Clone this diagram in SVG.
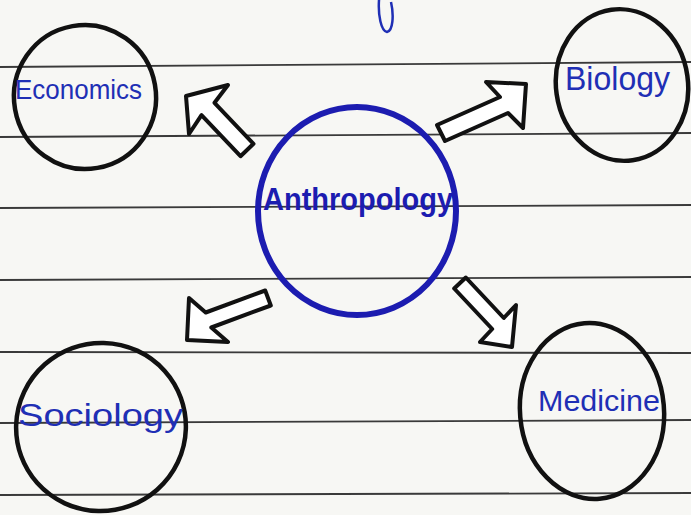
<svg xmlns="http://www.w3.org/2000/svg" width="691" height="515" viewBox="0 0 691 515">
<style>
.rule{fill:none;stroke:#3a3a3a;stroke-width:1.8}
.node{fill:none;stroke:#111;stroke-width:4.5}
.center{fill:none;stroke:#1c1cb0;stroke-width:6}
.arrow{fill:#fff;stroke:#111;stroke-width:4;stroke-linejoin:round}
.lbl{font-family:"Liberation Sans","DejaVu Sans",sans-serif;fill:#1f2fb5}
.main{font-family:"Liberation Sans","DejaVu Sans",sans-serif;fill:#1c1cb0;font-weight:bold}
</style>
<rect width="691" height="515" fill="#f7f7f4"/>
<g id="paper">
<path class="rule" d="M0,67 L691,62"/>
<path class="rule" d="M0,137 L691,133"/>
<path class="rule" d="M0,208 L691,205"/>
<path class="rule" d="M0,280 L691,277"/>
<path class="rule" d="M0,352 L691,353"/>
<path class="rule" d="M0,423 L691,420"/>
<path class="rule" d="M0,495 L691,493"/>
<path d="M379,0 C378,15 381,31 387,32 C393,31 394,15 391,2" fill="none" stroke="#1f2fb5" stroke-width="2.5"/>
</g>
<g id="connectors">
<polygon class="arrow" points="186,96 228,85 214.5,102.8 253.5,143.8 240.5,156.2 201.5,115.2 189,134"/>
<polygon class="arrow" points="526,84 486,82 500,97 437,125 445,141 508,113 523,128"/>
<polygon class="arrow" points="187,340 189,298 205.7,312.5 265.2,290.5 270.8,305.5 211.3,327.5 228,342"/>
<polygon class="arrow" points="512,347 480,342 492.2,329 454.2,288.5 465.8,277.5 503.8,318 516,305"/>
</g>
<g id="anthropology">
<ellipse class="center" cx="357" cy="211" rx="99" ry="104"/>
<text class="main" x="263" y="210" font-size="32" textLength="190" lengthAdjust="spacingAndGlyphs">Anthropology</text>
</g>
<g id="economics">
<ellipse class="node" cx="85" cy="97" rx="71" ry="72" transform="rotate(-10 85 97)"/>
<text class="lbl" x="15" y="99" font-size="28" textLength="127" lengthAdjust="spacingAndGlyphs">Economics</text>
</g>
<g id="biology">
<ellipse class="node" cx="622" cy="85" rx="66" ry="76" transform="rotate(-8 622 85)"/>
<text class="lbl" x="565" y="90" font-size="33" textLength="105" lengthAdjust="spacingAndGlyphs">Biology</text>
</g>
<g id="sociology">
<ellipse class="node" cx="101" cy="427" rx="85" ry="84" transform="rotate(-20 101 427)"/>
<text class="lbl" x="18" y="426" font-size="31" textLength="165" lengthAdjust="spacingAndGlyphs">Sociology</text>
</g>
<g id="medicine">
<ellipse class="node" cx="592" cy="411" rx="72" ry="88" transform="rotate(-5 592 411)"/>
<text class="lbl" x="538" y="411" font-size="29" textLength="122" lengthAdjust="spacingAndGlyphs">Medicine</text>
</g>
</svg>
